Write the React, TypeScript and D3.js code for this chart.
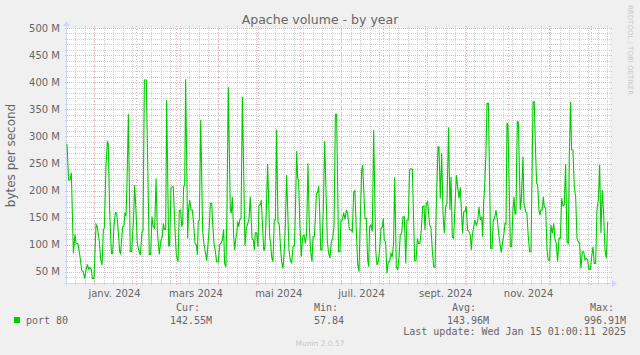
import { useEffect, useRef } from "react";
import * as d3 from "d3";

// time window: 400 days ending mid Jan 2025
const START = Date.UTC(2023, 11, 12);
const SPAN_DAYS = 400;

// days since START, and volume in M bytes/s
const DAY = [
  0, 1.2, 2.2, 3.2, 4.7, 5.9, 6.6, 8.1, 9.6, 10.8, 12.0, 13.0, 14.0, 15.0, 16.0, 16.9, 17.9, 18.7, 19.9, 21.4,
  22.3, 23.8, 24.8, 25.8, 26.8, 27.5, 28.7, 29.7, 30.4, 31.4, 32.7, 33.6, 34.6, 35.6, 36.6, 37.6, 38.8, 39.5, 41.0, 42.0,
  42.7, 43.5, 44.2, 45.2, 45.9, 46.6, 47.6, 49.1, 49.8, 50.8, 51.8, 52.8, 54.0, 55.2, 56.0, 57.0, 58.4, 60.6, 61.6, 62.6,
  63.6, 64.6, 65.6, 66.5, 68.0, 69.2, 70.2, 71.0, 71.7, 72.7, 73.4, 74.9, 75.6, 76.6, 77.3, 78.3, 79.6, 80.5, 81.8, 82.7,
  83.7, 84.5, 85.2, 85.9, 86.7, 87.4, 88.9, 89.6, 90.4, 91.3, 92.3, 93.3, 94.3, 95.3, 96.0, 96.7, 97.5, 98.5, 99.9, 100.9,
  101.7, 102.9, 103.9, 104.8, 105.6, 106.6, 107.3, 108.3, 109.3, 110.2, 111.5, 112.5, 113.4, 114.4, 115.4, 116.1, 117.1, 117.9, 118.8, 120.3,
  121.0, 121.8, 122.8, 123.5, 124.2, 125.0, 125.7, 126.5, 127.2, 128.2, 129.2, 131.1, 132.1, 133.1, 134.1, 135.0, 136.3, 137.3, 138.0, 138.7,
  139.7, 140.7, 141.4, 142.4, 143.1, 143.9, 144.9, 145.6, 146.6, 147.8, 149.3, 150.0, 150.8, 151.7, 152.7, 153.5, 154.4, 155.4, 156.4, 157.4,
  158.1, 159.1, 160.1, 160.8, 161.8, 163.5, 164.5, 165.5, 166.5, 167.5, 168.2, 169.2, 169.9, 170.6, 171.6, 172.6, 173.6, 174.6, 175.6, 176.5,
  177.5, 178.5, 179.5, 180.5, 181.2, 182.2, 182.9, 183.7, 184.6, 185.4, 186.1, 186.9, 187.8, 188.8, 189.8, 191.8, 192.7, 193.7, 194.7, 195.7,
  196.7, 197.7, 198.6, 200.1, 201.1, 201.8, 202.8, 203.8, 204.8, 205.8, 206.7, 208.0, 209.2, 210.2, 211.2, 212.1, 213.1, 214.1, 215.1, 216.1,
  217.1, 217.8, 219.5, 220.5, 221.5, 222.2, 222.9, 223.9, 224.9, 225.9, 227.4, 228.3, 229.3, 230.3, 231.3, 232.3, 233.0, 233.7, 234.7, 235.7,
  236.7, 237.7, 238.7, 239.6, 240.6, 241.4, 242.6, 243.6, 244.6, 245.5, 246.5, 247.5, 248.5, 249.5, 250.4, 251.4, 252.4, 253.4, 254.4, 256.1,
  257.1, 258.1, 259.0, 260.0, 261.0, 262.0, 263.0, 263.7, 264.7, 265.7, 267.1, 268.1, 269.1, 270.1, 271.1, 272.0, 273.3, 274.0, 275.0, 276.0,
  277.0, 277.9, 278.9, 279.9, 281.1, 282.1, 282.9, 283.8, 284.8, 285.8, 286.8, 287.8, 288.8, 289.7, 291.4, 292.2, 293.2, 294.1, 295.1, 296.1,
  297.1, 297.8, 298.6, 299.6, 300.5, 301.5, 302.5, 303.5, 304.5, 305.5, 306.2, 306.9, 307.7, 308.6, 309.4, 310.4, 312.1, 313.1, 314.0, 315.0,
  316.0, 317.0, 318.0, 318.9, 319.9, 320.9, 321.9, 322.6, 323.4, 324.1, 324.8, 326.6, 327.5, 328.5, 329.3, 330.0, 330.7, 331.7, 332.5, 333.9,
  334.7, 335.9, 336.6, 337.9, 338.8, 339.8, 340.8, 341.8, 343.3, 344.2, 345.2, 346.0, 346.7, 347.7, 348.4, 349.1, 350.1, 350.9, 351.6, 352.6,
  353.6, 354.5, 355.5, 356.5, 357.5, 358.5, 359.5, 360.4, 361.4, 362.4, 363.4, 364.4, 365.4, 366.3, 367.3, 368.3, 369.3, 370.0, 371.0, 371.7,
  372.7, 373.7, 374.7, 375.7, 376.6, 377.6, 378.6, 379.6, 380.6, 381.6, 382.5, 383.5, 384.5, 385.5, 386.5, 387.5, 388.4, 389.4, 390.4, 391.4,
  392.4, 393.3, 394.3, 395.3, 396.3, 397.3, 398.3,
];

const VOLUME_M = [
  286, 219.6, 219.6, 233, 84, 119.4, 102.8, 101.6, 78.2, 53.6, 50.5, 38.3, 53.6, 64, 54.9, 58, 54.9, 38.3, 38.3, 137.8,
  133.5, 105.9, 73.9, 62.8, 128.6, 130.5, 244.2, 290.3, 287.2, 164.3, 84.4, 84.4, 133.5, 159.4, 158.1, 130.5, 87.4, 84.4, 133.5, 134.8,
  158.1, 155, 214.7, 341.3, 213.5, 87.4, 87.4, 152, 210.4, 164.3, 102.8, 90.5, 81.3, 122.5, 127.4, 404, 404, 82.5, 82.5, 152,
  133.5, 130.5, 222.7, 127.4, 82.5, 109, 115.1, 139.7, 128.6, 128.6, 367.2, 97.9, 97.9, 204.3, 207.3, 207.3, 127.4, 81.3, 69, 163.1,
  164.3, 133.5, 139.7, 207.3, 210.4, 405.3, 112, 167.4, 182.7, 164.3, 164.3, 138.5, 102.8, 99.7, 81.3, 142.8, 145.8, 330.3, 127.4, 101,
  90.5, 70.8, 102.8, 133.5, 176.6, 176.6, 139.7, 102.8, 87.4, 69, 69, 99.7, 102.8, 108.9, 128.6, 65.9, 59.8, 176.6, 390.5, 164.3,
  158.1, 188.9, 115.1, 90.5, 109, 121.3, 142.8, 133.5, 145.8, 148.9, 373.3, 97.9, 130.5, 138.5, 148.9, 188.9, 112, 108.9, 90.5, 122.5,
  122.5, 96.7, 173.5, 173.5, 182.7, 142.8, 90.5, 90.5, 142.8, 249.1, 115.1, 102.8, 77, 69, 145.8, 145.8, 311.8, 142.8, 136.6, 90.5,
  69, 56.7, 90.5, 133.5, 228.8, 90.5, 72.1, 65.9, 96.7, 97.9, 158.1, 273.1, 222.7, 219.6, 133.5, 78.2, 115.1, 118.2, 102.8, 121.3,
  250.4, 133.5, 87.4, 69, 115.1, 115.1, 145.8, 195, 196.9, 208.5, 164.3, 90.5, 90.5, 164.3, 291.5, 105.9, 85.6, 75.2, 105.9, 112,
  133.5, 340.7, 340.7, 87.4, 87.4, 145.8, 145.8, 159.4, 147.1, 164.3, 158.1, 128.6, 127.4, 124.3, 198.1, 199.9, 127.4, 65.9, 50.5, 152,
  238.1, 247.3, 148.9, 148.9, 72.1, 59.8, 133.5, 136.6, 124.3, 311.8, 90.5, 62.8, 69, 90.5, 130.5, 133.5, 148.9, 109, 105.9, 47.5,
  69, 69, 84.4, 78.2, 102.8, 224.5, 59.8, 53.6, 78.2, 118.2, 121.3, 152, 152, 65.9, 145.8, 145.8, 238.1, 240.5, 239.3, 70.8,
  70.8, 112, 102.8, 102.8, 127.4, 170.4, 171.7, 127.4, 176.6, 179.7, 136.6, 132.3, 90.5, 59.8, 58.5, 170.4, 281.1, 281.1, 185.8, 268.8,
  158.1, 121.3, 170.4, 176.6, 316.8, 164.3, 225.8, 115.1, 112, 170.4, 228.8, 206.1, 185.8, 206.1, 121.3, 161.2, 161.2, 171.7, 127.4, 124.3,
  118.2, 90.5, 118.2, 133.5, 145.8, 136.6, 142.8, 170.4, 145.8, 152, 115.1, 179.7, 207.3, 268.8, 361, 361, 93.6, 93.6, 145.8, 148.9,
  164.3, 145.8, 121.3, 104, 85.6, 105.9, 121.3, 139.7, 138.5, 324.1, 322.9, 96.7, 96.7, 164.3, 188.9, 156.9, 156.9, 327.2, 327.2, 164.3,
  185.8, 262.7, 176.6, 161.2, 158.1, 115.1, 87.4, 87.4, 364.1, 364.1, 268.8, 213.5, 210.4, 164.3, 155, 164.3, 164.3, 188.9, 170.4, 167.4,
  90.5, 72.1, 70.8, 136.6, 121.3, 139.7, 109, 102.8, 69, 112, 112, 185.8, 171.7, 173.5, 249.1, 105.9, 102.8, 262.7, 364.1, 275,
  275, 207.3, 188.9, 112, 105.9, 102.8, 56.7, 87.4, 87.4, 72.1, 75.2, 72.1, 54.9, 54.9, 78.2, 96.7, 65.9, 65.9, 164.3, 182.7,
  247.3, 121.3, 201.2, 158.1, 90.5, 75.2, 142.8,
];

const Y_TICKS = [50, 100, 150, 200, 250, 300, 350, 400, 450, 500];
const X_LABEL_MONTHS = [
  Date.UTC(2024, 0, 1), Date.UTC(2024, 2, 1), Date.UTC(2024, 4, 1),
  Date.UTC(2024, 6, 1), Date.UTC(2024, 8, 1), Date.UTC(2024, 10, 1),
];
const X_LABELS = ["janv. 2024", "mars 2024", "mai 2024", "juil. 2024", "sept. 2024", "nov. 2024"];

const SERIES_NAME = "port 80";
const STAT_LABELS = ["Cur:", "Min:", "Avg:", "Max:"];
const STAT_VALUES = ["142.55M", "57.84", "143.96M", "996.91M"];
const LAST_UPDATE = "Last update: Wed Jan 15 01:00:11 2025";

const W = 640;
const H = 355;
const SANS = "DejaVu Sans, sans-serif";
const MONO = "DejaVu Sans Mono, monospace";

export default function App() {
  const svgRef = useRef<SVGSVGElement>(null);

  useEffect(() => {
    document.body.style.margin = "0";
    if (!svgRef.current) return;
    const svg = d3.select(svgRef.current);
    svg.selectAll("*").remove();

    const left = 67, right = 610, top = 28, bottom = 283;
    const x = d3.scaleTime()
      .domain([new Date(START), new Date(START + SPAN_DAYS * 864e5)])
      .range([left, right]);
    const y = d3.scaleLinear().domain([29.7, 500]).range([bottom, top]);
    const px = (v: number) => Math.round(v) + 0.5;

    svg.append("rect").attr("width", W).attr("height", H).attr("fill", "#F0F0F0");
    svg.append("rect")
      .attr("x", left).attr("y", top)
      .attr("width", right - left).attr("height", bottom - top)
      .attr("fill", "#FFFFFF");

    const minorColor = "#CFCFCF";
    const majorColor = "#EDB0B0";

    // minor grid: every 10M and every week (monday)
    d3.range(30, 500, 10).filter(v => v % 50 !== 0).forEach(v => {
      svg.append("line")
        .attr("x1", left - 2).attr("x2", right + 2)
        .attr("y1", px(y(v))).attr("y2", px(y(v)))
        .attr("stroke", minorColor).attr("stroke-dasharray", "1,1");
    });
    const [d0, d1] = x.domain();
    d3.utcMonday.range(d0, d1).forEach(d => {
      svg.append("line")
        .attr("x1", px(x(d))).attr("x2", px(x(d)))
        .attr("y1", top - 2).attr("y2", bottom + 2)
        .attr("stroke", minorColor).attr("stroke-dasharray", "1,1");
    });

    // major grid: every 50M and every month
    Y_TICKS.forEach(v => {
      svg.append("line")
        .attr("x1", left - 2).attr("x2", right + 2)
        .attr("y1", px(y(v))).attr("y2", px(y(v)))
        .attr("stroke", majorColor).attr("stroke-dasharray", "1,1");
      svg.append("text")
        .attr("x", 60).attr("y", y(v) + 3.5)
        .attr("text-anchor", "end")
        .attr("fill", "#666666")
        .attr("font-size", "10px")
        .attr("font-family", SANS)
        .text(`${v} M`);
    });
    d3.utcMonth.range(d0, d1).forEach(d => {
      svg.append("line")
        .attr("x1", px(x(d))).attr("x2", px(x(d)))
        .attr("y1", top - 2).attr("y2", bottom + 2)
        .attr("stroke", majorColor).attr("stroke-dasharray", "1,2");
    });

    // month labels sit mid-month
    X_LABEL_MONTHS.forEach((m, i) => {
      svg.append("text")
        .attr("x", x(d3.utcDay.offset(new Date(m), 15)))
        .attr("y", 296.5)
        .attr("text-anchor", "middle")
        .attr("fill", "#666666")
        .attr("font-size", "10px")
        .attr("font-family", SANS)
        .text(X_LABELS[i]);
    });

    // axes with arrows
    const axisColor = "#CFD6F8";
    svg.append("line")
      .attr("x1", left - 3).attr("x2", right + 3)
      .attr("y1", bottom + 0.5).attr("y2", bottom + 0.5)
      .attr("stroke", axisColor);
    svg.append("path")
      .attr("d", `M${right + 2},${bottom - 3} L${right + 7},${bottom + 0.5} L${right + 2},${bottom + 4} Z`)
      .attr("fill", axisColor);
    svg.append("line")
      .attr("x1", left - 0.5).attr("x2", left - 0.5)
      .attr("y1", bottom + 3).attr("y2", top - 3)
      .attr("stroke", axisColor);
    svg.append("path")
      .attr("d", `M${left - 4},${top - 2} L${left - 0.5},${top - 7} L${left + 3},${top - 2} Z`)
      .attr("fill", axisColor);

    // series line
    const points = DAY.map((d, i) => [x(new Date(START + d * 864e5)), y(VOLUME_M[i])] as [number, number]);
    const lineGen = d3.line<[number, number]>().x(d => d[0]).y(d => d[1]);
    svg.append("path")
      .datum(points)
      .attr("d", lineGen)
      .attr("fill", "none")
      .attr("stroke", "#00CC00")
      .attr("stroke-width", 1.1);

    // title and y label
    svg.append("text")
      .attr("x", 320).attr("y", 24)
      .attr("text-anchor", "middle")
      .attr("fill", "#666666")
      .attr("font-size", "12.5px")
      .attr("font-family", SANS)
      .text("Apache volume - by year");
    svg.append("text")
      .attr("transform", `translate(15,${(top + bottom) / 2}) rotate(-90)`)
      .attr("text-anchor", "middle")
      .attr("fill", "#666666")
      .attr("font-size", "12px")
      .attr("font-family", SANS)
      .text("bytes per second");

    // watermark
    svg.append("text")
      .attr("transform", "translate(628,5) rotate(90)")
      .attr("fill", "#C8C8C8")
      .attr("font-size", "7px")
      .attr("font-family", SANS)
      .text("RRDTOOL / TOBI OETIKER");
    svg.append("text")
      .attr("x", 320).attr("y", 346)
      .attr("text-anchor", "middle")
      .attr("fill", "#C8C8C8")
      .attr("font-size", "7.5px")
      .attr("font-family", SANS)
      .text("Munin 2.0.57");

    // legend
    svg.append("rect")
      .attr("x", 14).attr("y", 317).attr("width", 6).attr("height", 6)
      .attr("fill", "#00CC00");
    svg.append("text")
      .attr("x", 26).attr("y", 323.5)
      .attr("fill", "#666666")
      .attr("font-size", "10px")
      .attr("font-family", MONO)
      .text(SERIES_NAME);

    const labelX = [176, 314, 452, 590];
    const valueX = [170, 314, 447, 584];
    STAT_LABELS.forEach((s, i) => {
      svg.append("text")
        .attr("x", labelX[i]).attr("y", 311)
        .attr("fill", "#666666")
        .attr("font-size", "10px")
        .attr("font-family", MONO)
        .text(s);
      svg.append("text")
        .attr("x", valueX[i]).attr("y", 323.5)
        .attr("fill", "#666666")
        .attr("font-size", "10px")
        .attr("font-family", MONO)
        .text(STAT_VALUES[i]);
    });
    svg.append("text")
      .attr("x", 626).attr("y", 335)
      .attr("text-anchor", "end")
      .attr("fill", "#666666")
      .attr("font-size", "10px")
      .attr("font-family", MONO)
      .text(LAST_UPDATE);
  }, []);

  return <svg ref={svgRef} width={W} height={H} style={{ display: "block" }} />;
}
